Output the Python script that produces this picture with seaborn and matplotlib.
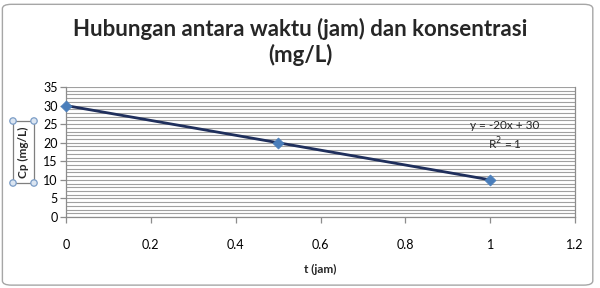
import matplotlib
matplotlib.use("Agg")
import matplotlib.pyplot as plt
import seaborn as sns
import numpy as np
import pandas as pd
from matplotlib.patches import FancyBboxPatch, Circle, Rectangle
from matplotlib.ticker import MultipleLocator

# data
t_jam = [0, 0.5, 1]
cp = [30, 20, 10]
title_text = "Hubungan antara waktu (jam) dan konsentrasi\n(mg/L)"
xlabel_text = "t (jam)"
ylabel_text = "Cp (mg/L)"
eq_text = "y = -20x + 30\nR$^2$ = 1"

sns.set_theme(style="white")
plt.rcParams['font.family'] = ['Lato', 'DejaVu Sans']

df = pd.DataFrame({"t": t_jam, "cp": cp})

fig = plt.figure(figsize=(6.0, 2.88), dpi=100)
ax = fig.add_axes([66/600, 1-217/288, (575-66)/600, 130/288])

# chart border
fig.patches.append(FancyBboxPatch((0.004, 0.01), 0.984, 0.975, boxstyle="round,pad=0,rounding_size=0.015",
                                  transform=fig.transFigure, fill=False, edgecolor="#a6a6a6", linewidth=1.0))

# trendline (fit from data)
coef = np.polyfit(t_jam, cp, 1)
fit_df = pd.DataFrame({"t": [min(t_jam), max(t_jam)]})
fit_df["cp"] = coef[0] * fit_df["t"] + coef[1]
sns.lineplot(data=fit_df, x="t", y="cp", ax=ax, color="#1f2f5c", linewidth=2.0, zorder=3)
sns.scatterplot(data=df, x="t", y="cp", ax=ax, marker="D", s=32, color="#4a7ebb", edgecolor="#4a7ebb", zorder=4, clip_on=False)

ax.set_xlim(0, 1.2)
ax.set_ylim(0, 35)
ax.yaxis.set_major_locator(MultipleLocator(5))
ax.yaxis.set_minor_locator(MultipleLocator(1))
ax.set_xticks(np.arange(0, 1.21, 0.2))
ax.set_xticklabels(["0", "0.2", "0.4", "0.6", "0.8", "1", "1.2"])
ax.grid(which="both", axis="y", color="#a0a0a0", linewidth=0.8)
ax.set_axisbelow(True)

ax.spines["top"].set_visible(False)
for s in ["left", "bottom", "right"]:
    ax.spines[s].set_color("#8c8c8c")
    ax.spines[s].set_linewidth(0.9)

ax.tick_params(axis="both", which="major", direction="out", length=4, width=0.9, color="#8c8c8c",
               labelsize=9, labelcolor="black", bottom=True, left=True)
ax.tick_params(axis="x", pad=12)
ax.tick_params(axis="y", pad=2)

ax.set_xlabel(xlabel_text, fontsize=8.5, fontweight="bold", labelpad=9)
ax.set_ylabel("")

fig.text(0.5, 0.855, title_text, ha="center", va="center", fontsize=16, fontweight="bold", linespacing=1.2)

ax.text(1.035, 21.8, eq_text, ha="center", va="center", fontsize=8.5, linespacing=1.3)

# y label in selection box
fig.text(23.5/600, 1-152/288, ylabel_text, rotation=90, ha="center", va="center", fontsize=8.5, fontweight="bold")
fig.patches.append(Rectangle((13/600, 1-183/288), 21/600, 62/288, transform=fig.transFigure,
                             fill=False, edgecolor="#7f7f7f", linewidth=0.9))
for (px, py) in [(13, 121), (34, 121), (13, 183), (34, 183)]:
    fig.patches.append(Circle((px, 288-py), 3.2, transform=None, facecolor="#dbe5f1",
                              edgecolor="#7a9cc6", linewidth=0.9))

fig.savefig("out.png", dpi=100)
